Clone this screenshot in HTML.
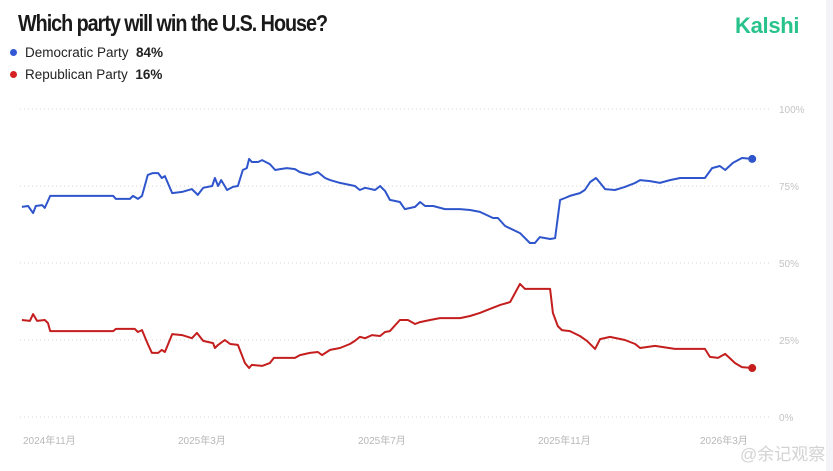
<!DOCTYPE html>
<html><head><meta charset="utf-8"><style>
body{margin:0;background:#fff;width:833px;height:471px;overflow:hidden;position:relative;font-family:"Liberation Sans","Noto Sans CJK SC",sans-serif}
.t{position:absolute}
</style></head><body>
<div class="t" style="left:18px;top:10px;font-size:23px;font-weight:bold;color:#1a1a1a;letter-spacing:-1.2px;transform:scaleX(0.86);transform-origin:left top;white-space:nowrap">Which party will win the U.S. House?</div>
<div class="t" style="left:735px;top:13px;font-size:22px;font-weight:bold;color:#28c38c;letter-spacing:-0.3px">Kalshi</div>
<div class="t" style="left:10px;top:45px;font-size:13.5px;color:#222;white-space:nowrap"><span style="display:inline-block;width:7px;height:7px;border-radius:50%;background:#3358d4;margin-right:8px;vertical-align:1px"></span>Democratic Party&nbsp;&nbsp;<b>84%</b></div>
<div class="t" style="left:10px;top:67px;font-size:13.5px;color:#222;white-space:nowrap"><span style="display:inline-block;width:7px;height:7px;border-radius:50%;background:#d42222;margin-right:8px;vertical-align:1px"></span>Republican Party&nbsp;&nbsp;<b>16%</b></div>
<div class="t" style="left:826px;top:0;width:7px;height:471px;background:#f4f4f8"></div>
<svg id="chart" class="t" style="left:0;top:0" width="833" height="471"></svg>
<div class="t" style="left:740px;top:440px;font-size:17px;color:rgba(200,200,200,0.8)">@余记观察</div>
<script>
const yTicks=[0,25,50,75,100];
const yTickLabels=["0%","25%","50%","75%","100%"];
const xTickMonths=[0,4,8,12,15.6];
const xTickLabels=["2024年11月","2025年3月","2025年7月","2025年11月","2026年3月"];
const demMonths=[-0.07,0.07,0.18,0.24,0.38,0.44,0.56,1.96,2.02,2.33,2.40,2.51,2.60,2.73,2.84,2.96,3.04,3.11,3.27,3.49,3.71,3.84,3.96,4.16,4.22,4.29,4.36,4.49,4.62,4.73,4.84,4.93,4.98,5.04,5.18,5.27,5.44,5.56,5.67,5.82,6.00,6.11,6.33,6.51,6.67,6.78,7.00,7.33,7.44,7.56,7.78,7.89,8.00,8.11,8.33,8.44,8.67,8.78,8.89,9.07,9.33,9.67,9.89,10.11,10.40,10.51,10.67,11.00,11.22,11.33,11.44,11.67,11.78,11.89,12.00,12.11,12.33,12.44,12.56,12.69,12.78,12.89,13.11,13.33,13.56,13.67,13.89,14.11,14.33,14.56,15.11,15.27,15.44,15.56,15.73,15.93,16.16];
const demValues=[68.2,68.5,66.2,68.5,68.8,67.9,71.8,71.8,70.8,70.8,71.8,70.8,71.8,78.6,79.2,79.2,77.6,78.2,72.7,73.1,74.0,72.1,74.4,75.0,77.6,75.0,76.9,73.7,74.7,75.0,80.2,80.8,83.8,82.8,82.8,83.4,82.1,80.2,80.5,80.8,80.5,79.5,78.6,79.5,77.6,76.9,76.0,75.0,73.7,74.4,73.7,75.0,73.4,70.5,69.8,67.5,68.2,69.8,68.5,68.5,67.5,67.5,67.2,66.6,64.6,64.6,62.0,59.7,56.5,56.5,58.4,57.8,58.1,70.5,71.1,71.8,72.7,73.7,76.3,77.6,76.0,74.0,73.7,74.7,76.0,76.9,76.6,76.0,76.9,77.6,77.6,80.8,81.5,80.2,82.5,84.1,83.8];
const repMonths=[-0.07,0.11,0.18,0.27,0.44,0.51,0.56,1.96,2.02,2.44,2.51,2.60,2.73,2.82,2.96,3.04,3.11,3.27,3.49,3.71,3.82,3.96,4.18,4.22,4.29,4.44,4.56,4.73,4.89,4.98,5.04,5.27,5.44,5.53,6.00,6.11,6.33,6.51,6.60,6.78,7.00,7.22,7.33,7.44,7.56,7.71,7.89,8.00,8.11,8.33,8.51,8.67,8.78,9.00,9.22,9.67,9.89,10.11,10.33,10.56,10.78,11.00,11.11,11.67,11.73,11.84,11.93,12.11,12.33,12.49,12.67,12.78,13.00,13.33,13.56,13.67,14.00,14.44,15.11,15.22,15.40,15.56,15.78,15.93,16.16];
const repValues=[31.5,31.2,33.4,31.2,31.5,30.5,27.9,27.9,28.6,28.6,27.6,28.2,23.7,20.8,20.8,21.8,21.1,26.9,26.6,25.6,27.3,24.7,24.0,22.4,23.4,25.0,23.7,23.4,17.5,15.9,16.9,16.6,17.5,19.2,19.2,20.1,20.8,21.1,20.1,21.8,22.4,23.7,24.7,26.0,25.6,26.6,26.3,27.6,27.9,31.5,31.5,30.2,30.8,31.5,32.1,32.1,32.8,33.8,35.1,36.4,37.3,43.2,41.6,41.6,33.8,29.5,28.2,27.9,26.3,24.7,22.1,25.3,26.0,25.0,23.7,22.4,23.1,22.1,22.1,19.5,19.2,20.5,17.5,16.2,15.9];

const NS="http://www.w3.org/2000/svg";
const svg=document.getElementById('chart');
const xs=m=>25+45*m;
const ys=v=>417-3.08*v;
function mk(tag,attrs){const e=document.createElementNS(NS,tag);for(const k in attrs)e.setAttribute(k,attrs[k]);svg.appendChild(e);return e;}
yTicks.forEach((v,i)=>{
  const g=mk('line',{x1:20,x2:772,y1:ys(v),y2:ys(v),stroke:'#d6d6d6','stroke-width':1,'stroke-dasharray':'1 3'});
  
  
  const t=mk('text',{x:779,y:ys(v)+4,'font-size':10,fill:'#c4c4c4','font-family':'Liberation Sans, sans-serif'});
  t.textContent=yTickLabels[i];
  
  
});
xTickMonths.forEach((m,i)=>{
  let x=xs(m)-27; if(x<23)x=23;
  const t=mk('text',{x:x,y:444,'font-size':10,fill:'#b8b8b8','font-family':'Liberation Sans, Noto Sans CJK SC, sans-serif'});
  t.textContent=xTickLabels[i];
  
  
});
function series(ms,vs,color,name){
  const d=ms.map((m,i)=>(i?'L':'M')+xs(m).toFixed(1)+','+ys(vs[i]).toFixed(1)).join('');
  const p=mk('path',{d:d,fill:'none',stroke:color,'stroke-width':2,'stroke-linejoin':'round'});
  
  
  const n=ms.length-1;
  const c=mk('circle',{cx:xs(ms[n]),cy:ys(vs[n]),r:4,fill:color});
  
  
}
series(demMonths,demValues,'#2f55cc','democratic');
series(repMonths,repValues,'#c41e1e','republican');
</script>
</body></html>
